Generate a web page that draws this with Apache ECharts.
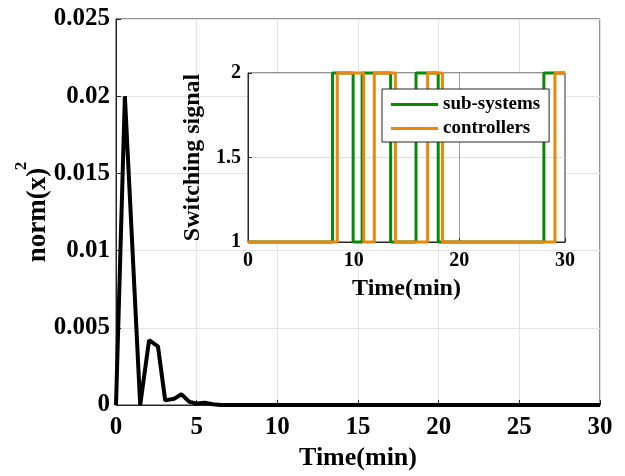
<!DOCTYPE html>
<html>
<head>
<meta charset="utf-8">
<script src="https://cdn.jsdelivr.net/npm/echarts@6/dist/echarts.min.js"></script>
<style>html,body{margin:0;padding:0;background:#fff}#c{width:625px;height:476px}</style>
</head>
<body>
<div id="c"></div>
<script>
// Main plot: norm(x)^2 over time
var mainTimes  = [0, 0.55, 1.5, 2.05, 2.6, 3.05, 3.6, 4.05, 4.55, 5.0, 5.5, 6.0, 6.5, 30];
var mainValues = [0, 0.020, 0, 0.0042, 0.0038, 0.0003, 0.0004, 0.0007, 0.0002, 0.0001, 0.00015, 0.00005, 0, 0];
// Inset: switching signals (transition times and the value held from each time)
var subTimes   = [0, 8.0, 9.95, 10.8, 13.5, 15.9, 18.0, 28.0, 30];
var subValues  = [1, 2, 1, 2, 1, 2, 1, 2, 2];
var ctrlTimes  = [0, 8.45, 10.95, 11.95, 13.95, 17.0, 18.4, 29.05, 30];
var ctrlValues = [1, 2, 1, 2, 1, 2, 1, 2, 2];
var mainXTicks = [0, 30, 5];
var mainYTicks = [0, 0.025, 0.005];
var insetXTicks = [0, 30, 10];
var insetYTicks = [1, 2, 0.5];

function pairs(t, v) { return t.map(function (x, i) { return [x, v[i]]; }); }

var FONT = 'Liberation Serif';
var tickFont = {fontFamily: FONT, fontWeight: 'bold', color: '#000'};

var chart = echarts.init(document.getElementById('c'), null, {renderer: 'canvas'});
var option = {
  animation: false,
  backgroundColor: '#fff',
  grid: [
    {left: 116, right: 25, top: 19, bottom: 71, show: true, borderColor: '#262626', borderWidth: 1, backgroundColor: 'transparent', z: 0},
    {left: 248, top: 73, width: 317, height: 169, show: true, borderColor: '#262626', borderWidth: 1, backgroundColor: '#fff', z: 5}
  ],
  graphic: [
    {type: 'text', x: 38, y: 215, rotation: Math.PI / 2, z: 20,
     style: {text: 'norm(x)', align: 'center', verticalAlign: 'middle',
       font: 'bold 27px "Liberation Serif"', fill: '#000'}},
    {type: 'text', x: 22, y: 166, rotation: Math.PI / 2, z: 20,
     style: {text: '2', align: 'center', verticalAlign: 'middle',
       font: 'bold 17px "Liberation Serif"', fill: '#000'}}
  ],
  xAxis: [
    {gridIndex: 0, type: 'value', min: mainXTicks[0], max: mainXTicks[1], interval: mainXTicks[2], z: 1,
     axisLine: {show: true, onZero: false, lineStyle: {color: '#262626', width: 1}},
     axisTick: {show: true, inside: true, length: 5, lineStyle: {color: '#262626'}},
     splitLine: {show: true, lineStyle: {color: '#e3e3e3', width: 1}},
     axisLabel: Object.assign({fontSize: 25, margin: 10}, tickFont),
     name: 'Time(min)', nameLocation: 'middle', nameGap: 40,
     nameTextStyle: {fontFamily: FONT, fontWeight: 'bold', fontSize: 26, color: '#000'}},
    {gridIndex: 1, type: 'value', min: insetXTicks[0], max: insetXTicks[1], interval: insetXTicks[2], z: 6,
     axisLine: {show: true, onZero: false, lineStyle: {color: '#262626', width: 1}},
     axisTick: {show: true, inside: true, length: 4, lineStyle: {color: '#262626'}},
     splitLine: {show: true, lineStyle: {color: '#9a9a9a', width: 1}},
     axisLabel: Object.assign({fontSize: 20, margin: 9}, tickFont),
     name: 'Time(min)', nameLocation: 'middle', nameGap: 35,
     nameTextStyle: {fontFamily: FONT, fontWeight: 'bold', fontSize: 24, color: '#000'}}
  ],
  yAxis: [
    {gridIndex: 0, type: 'value', min: mainYTicks[0], max: mainYTicks[1], interval: mainYTicks[2], z: 1,
     axisLine: {show: true, onZero: false, lineStyle: {color: '#262626', width: 1}},
     axisTick: {show: true, inside: true, length: 5, lineStyle: {color: '#262626'}},
     splitLine: {show: true, lineStyle: {color: '#e3e3e3', width: 1}},
     axisLabel: Object.assign({fontSize: 25, margin: 6}, tickFont)},
    {gridIndex: 1, type: 'value', min: insetYTicks[0], max: insetYTicks[1], interval: insetYTicks[2], z: 6,
     axisLine: {show: true, onZero: false, lineStyle: {color: '#262626', width: 1}},
     axisTick: {show: true, inside: true, length: 4, lineStyle: {color: '#262626'}},
     splitLine: {show: true, lineStyle: {color: '#dcdcdc', width: 1}},
     axisLabel: Object.assign({fontSize: 20, margin: 7}, tickFont),
     name: 'Switching signal', nameLocation: 'middle', nameGap: 34, nameRotate: 90,
     nameTextStyle: {fontFamily: FONT, fontWeight: 'bold', fontSize: 24, color: '#000'}}
  ],
  legend: {
    show: true, orient: 'vertical', left: 382, top: 89, z: 10,
    padding: [6, 9, 4, 9], itemGap: 5, itemWidth: 47, itemHeight: 3,
    backgroundColor: '#fff', borderColor: '#262626', borderWidth: 1,
    icon: 'rect',
    textStyle: {fontFamily: FONT, fontWeight: 'bold', fontSize: 19, color: '#000'},
    data: ['sub-systems', 'controllers']
  },
  series: [
    {name: 'norm', type: 'line', xAxisIndex: 0, yAxisIndex: 0, data: pairs(mainTimes, mainValues),
     showSymbol: false, symbol: 'none', lineStyle: {color: '#000', width: 4}, itemStyle: {color: '#000'}, z: 2, clip: false},
    {name: 'sub-systems', type: 'line', xAxisIndex: 1, yAxisIndex: 1, step: 'end', data: pairs(subTimes, subValues),
     symbol: 'none', lineStyle: {color: '#0a880a', width: 3}, itemStyle: {color: '#0a880a'}, z: 7, clip: false},
    {name: 'controllers', type: 'line', xAxisIndex: 1, yAxisIndex: 1, step: 'end', data: pairs(ctrlTimes, ctrlValues),
     symbol: 'none', lineStyle: {color: '#e8880c', width: 3}, itemStyle: {color: '#e8880c'}, z: 8, clip: false}
  ]
};
chart.setOption(option);
</script>
</body>
</html>
